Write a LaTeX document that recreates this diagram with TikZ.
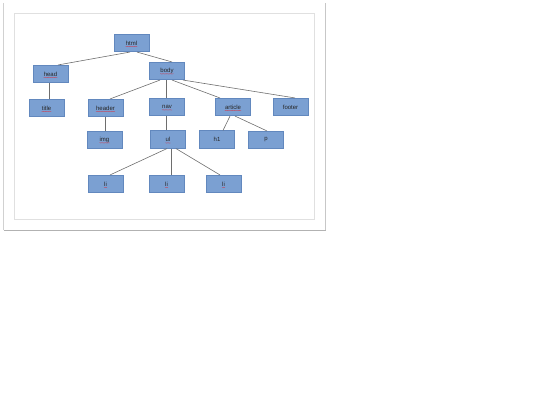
\documentclass[tikz,border=0pt]{standalone}
\usepackage{fontspec}
\setmainfont{Liberation Sans}
\usetikzlibrary{decorations.pathmorphing}
\definecolor{boxfill}{RGB}{123,160,210}
\definecolor{boxdraw}{RGB}{98,136,190}
\definecolor{edgecol}{RGB}{110,110,110}
\tikzset{
  box/.style={draw=boxdraw, line width=0.6pt, fill=boxfill, minimum width=35pt, minimum height=17.5pt, inner sep=0pt},
  txt/.style={inner sep=0pt, font=\fontsize{6pt}{6.5pt}\selectfont, text=black!85},
  sq/.style={draw=red!55!boxfill, line width=0.25pt, decorate, decoration={snake, amplitude=0.3pt, segment length=1.4pt}},
  edge/.style={draw=edgecol, line width=0.6pt}
}
\newcommand\bx[3]{\node[box] (#1) at (#2) {};\node[txt] (#1t) at (#1) {#3};}
\newcommand\bxs[3]{\bx{#1}{#2}{#3}\draw[sq] ([yshift=-1.3pt]#1t.base west) -- ([yshift=-1.3pt]#1t.base east);}
\begin{document}
\begin{tikzpicture}[x=1pt,y=-1pt]
\useasboundingbox (0,0) rectangle (540,405);
% frames
\draw[draw=black!18, line width=0.8pt] (3.5,3) -- (3.5,230);
\draw[draw=black!30, line width=0.9pt] (3.5,230) -- (326,230);
\draw[draw=black!22, line width=0.8pt] (325.5,3) -- (325.5,230);
\draw[draw=black!12, line width=0.7pt] (14,13) rectangle (314,219);
% nodes
\bxs{html}{131.5,43}{html}
\bxs{head}{50.5,74}{head}
\bxs{body}{167,71}{body}
\bxs{title}{46.5,108}{title}
\bxs{header}{105.5,108}{header}
\bxs{nav}{167,107}{nav}
\bxs{article}{233,107}{article}
\bx{footer}{290.5,107}{footer}
\bxs{img}{104.5,140}{img}
\bxs{ul}{168,139.5}{ul}
\bx{h1}{217,139.5}{h1}
\bx{p}{266,140}{p}
\bxs{lia}{105.5,184}{li}
\bxs{lib}{166.5,184}{li}
\bxs{lic}{223.5,184}{li}
% edges
\draw[edge] ([xshift=-1.5pt]html.south) -- ([xshift=7.5pt]head.north);
\draw[edge] ([xshift=5.5pt]html.south) -- ([xshift=5pt]body.north);
\draw[edge] ([xshift=-1.5pt]head.south) -- ([xshift=2.5pt]title.north);
\draw[edge] ([xshift=-7pt]body.south) -- ([xshift=4.5pt]header.north);
\draw[edge] ([xshift=-1pt]body.south) -- ([xshift=-1pt]nav.north);
\draw[edge] ([xshift=5pt]body.south) -- ([xshift=-13pt]article.north);
\draw[edge] ([xshift=16pt]body.south) -- ([xshift=4.5pt]footer.north);
\draw[edge] ([xshift=-0.5pt]header.south) -- ([xshift=0.5pt]img.north);
\draw[edge] ([xshift=-1pt]nav.south) -- ([xshift=-2pt]ul.north);
\draw[edge] ([xshift=-3pt]article.south) -- ([xshift=6pt]h1.north);
\draw[edge] ([xshift=2pt]article.south) -- ([xshift=1pt]p.north);
\draw[edge] ([xshift=-1pt]ul.south) -- ([xshift=4.5pt]lia.north);
\draw[edge] ([xshift=3pt]ul.south) -- ([xshift=4.5pt]lib.north);
\draw[edge] ([xshift=8pt]ul.south) -- ([xshift=-3.5pt]lic.north);
\end{tikzpicture}
\end{document}
